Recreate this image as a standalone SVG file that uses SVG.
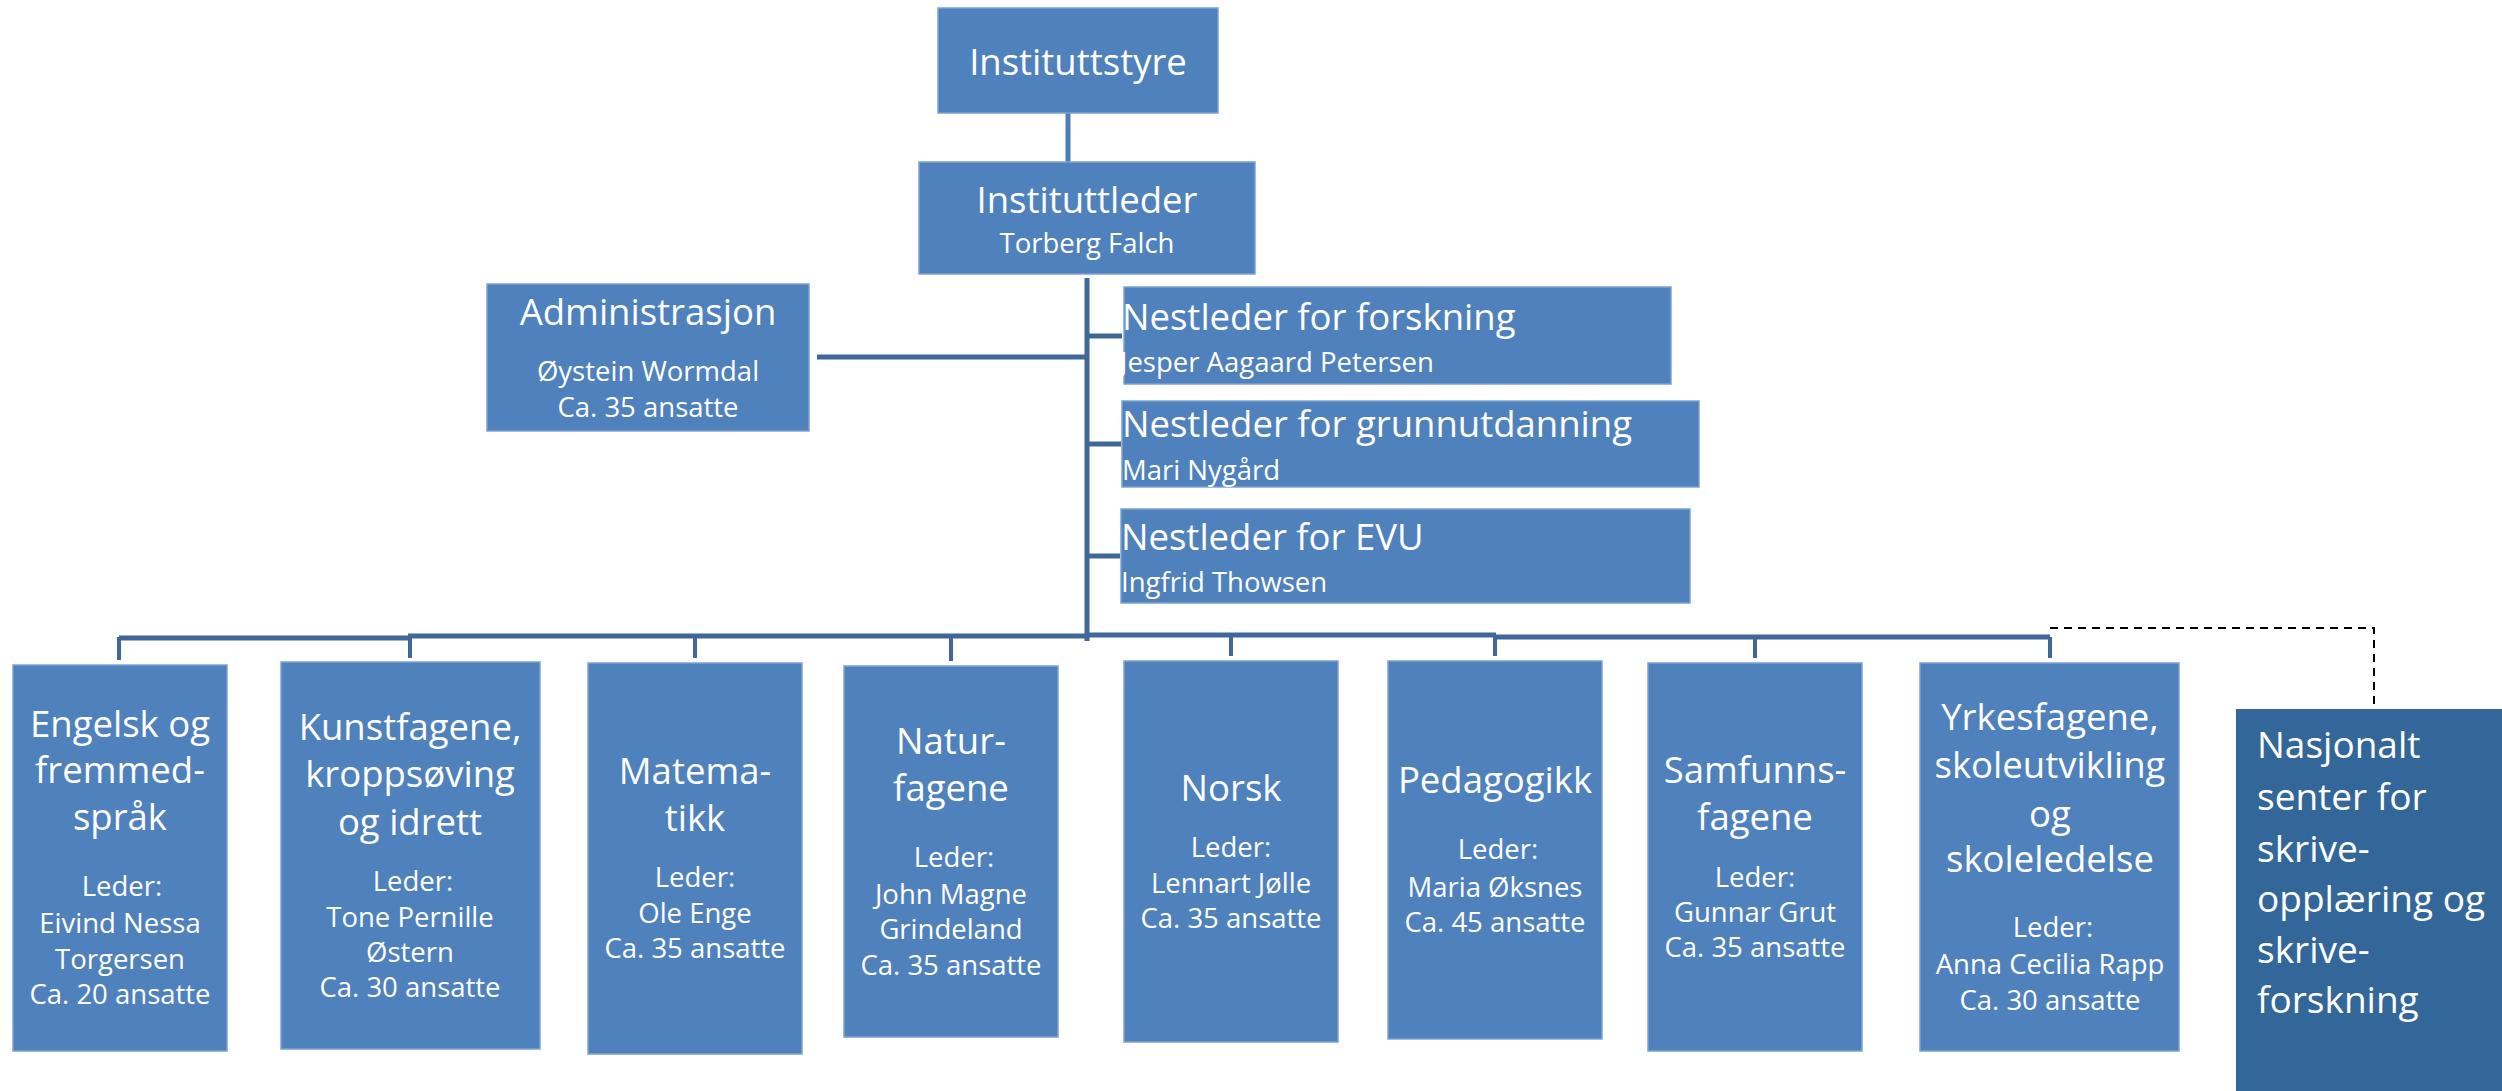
<svg xmlns="http://www.w3.org/2000/svg" width="2502" height="1091" viewBox="0 0 2502 1091">
<style>
.box{fill:#4F81BD;stroke:#7CA2D2;stroke-width:1.5}
.dark{fill:#336699}
text{font-family:"Open Sans","Liberation Sans",sans-serif;fill:#FFFFFF}
.t{font-size:36.5px}
.s{font-size:27.5px}
.n{font-size:37px}
.c{text-anchor:middle}
.con{stroke:#3F6797;stroke-width:5;fill:none}
.drop{stroke:#3F6797;stroke-width:4;fill:none}
</style>
<rect width="2502" height="1091" fill="#FFFFFF"/>
<g id="connectors">
<line x1="1068" y1="113" x2="1068" y2="163" stroke="#4F7CB4" stroke-width="5"/>
<line class="con" x1="1087" y1="278" x2="1087" y2="641"/>
<line class="con" x1="817" y1="357" x2="1087" y2="357"/>
<line class="con" x1="1087" y1="336" x2="1122" y2="336"/>
<line class="con" x1="1087" y1="444" x2="1121" y2="444"/>
<line class="con" x1="1087" y1="556" x2="1120" y2="556"/>
<path class="con" d="M119,638 H408 M408,636 H1087 M1087,635 H1496 M1496,637 H2050"/>
<path class="drop" d="M119,637 V660 M410,636 V658 M695,637 V658 M951,637 V661 M1231,636 V656 M1495,636 V656 M1755,637 V658 M2050,637 V658"/>
<path d="M2050,628 H2374 V709" fill="none" stroke="#000000" stroke-width="2" stroke-dasharray="8,6"/>
</g>
<g id="instituttstyre">
<rect class="box" x="938" y="8" width="280" height="105"/>
<text class="t c" x="1078" y="75">Instituttstyre</text>
</g>
<g id="instituttleder">
<rect class="box" x="919" y="162" width="336" height="112"/>
<text class="t c" x="1087" y="213">Instituttleder</text>
<text class="s c" x="1087" y="253">Torberg Falch</text>
</g>
<g id="administrasjon">
<rect class="box" x="487" y="284" width="322" height="147"/>
<text class="t c" x="648" y="325">Administrasjon</text>
<text class="s c" x="648" y="381">Øystein Wormdal</text>
<text class="s c" x="648" y="417">Ca. 35 ansatte</text>
</g>
<g id="nestleder-forskning">
<rect class="box" x="1124" y="287" width="547" height="97"/>
<text class="t" x="1122" y="330">Nestleder for forskning</text>
<text class="s" x="1120" y="372">Jesper Aagaard Petersen</text>
</g>
<g id="nestleder-grunnutdanning">
<rect class="box" x="1122" y="401" width="577" height="86"/>
<text class="t" x="1122" y="437">Nestleder for grunnutdanning</text>
<text class="s" x="1122" y="480">Mari Nygård</text>
</g>
<g id="nestleder-evu">
<rect class="box" x="1121" y="509" width="569" height="94"/>
<text class="t" x="1121" y="550">Nestleder for EVU</text>
<text class="s" x="1121" y="592">Ingfrid Thowsen</text>
</g>
<g id="engelsk">
<rect class="box" x="13" y="665" width="214" height="386"/>
<text class="t c" x="120" y="737">Engelsk og</text>
<text class="t c" x="120" y="783">fremmed-</text>
<text class="t c" x="120" y="830">språk</text>
<text class="s c" x="122" y="896">Leder:</text>
<text class="s c" x="120" y="933">Eivind Nessa</text>
<text class="s c" x="120" y="969">Torgersen</text>
<text class="s c" x="120" y="1004">Ca. 20 ansatte</text>
</g>
<g id="kunstfagene">
<rect class="box" x="281" y="662" width="259" height="387"/>
<text class="t c" x="410" y="740">Kunstfagene,</text>
<text class="t c" x="410" y="787">kroppsøving</text>
<text class="t c" x="410" y="835">og idrett</text>
<text class="s c" x="413" y="891">Leder:</text>
<text class="s c" x="410" y="927">Tone Pernille</text>
<text class="s c" x="410" y="962">Østern</text>
<text class="s c" x="410" y="997">Ca. 30 ansatte</text>
</g>
<g id="matematikk">
<rect class="box" x="588" y="663" width="214" height="391"/>
<text class="t c" x="695" y="784">Matema-</text>
<text class="t c" x="695" y="831">tikk</text>
<text class="s c" x="695" y="887">Leder:</text>
<text class="s c" x="695" y="923">Ole Enge</text>
<text class="s c" x="695" y="958">Ca. 35 ansatte</text>
</g>
<g id="naturfagene">
<rect class="box" x="844" y="666" width="214" height="371"/>
<text class="t c" x="951" y="754">Natur-</text>
<text class="t c" x="951" y="801">fagene</text>
<text class="s c" x="954" y="867">Leder:</text>
<text class="s c" x="951" y="904">John Magne</text>
<text class="s c" x="951" y="939">Grindeland</text>
<text class="s c" x="951" y="975">Ca. 35 ansatte</text>
</g>
<g id="norsk">
<rect class="box" x="1124" y="661" width="214" height="381"/>
<text class="t c" x="1231" y="801">Norsk</text>
<text class="s c" x="1231" y="857">Leder:</text>
<text class="s c" x="1231" y="893">Lennart Jølle</text>
<text class="s c" x="1231" y="928">Ca. 35 ansatte</text>
</g>
<g id="pedagogikk">
<rect class="box" x="1388" y="661" width="214" height="378"/>
<text class="t c" x="1495" y="793">Pedagogikk</text>
<text class="s c" x="1498" y="859">Leder:</text>
<text class="s c" x="1495" y="897">Maria Øksnes</text>
<text class="s c" x="1495" y="932">Ca. 45 ansatte</text>
</g>
<g id="samfunnsfagene">
<rect class="box" x="1648" y="663" width="214" height="388"/>
<text class="t c" x="1755" y="783">Samfunns-</text>
<text class="t c" x="1755" y="830">fagene</text>
<text class="s c" x="1755" y="887">Leder:</text>
<text class="s c" x="1755" y="922">Gunnar Grut</text>
<text class="s c" x="1755" y="957">Ca. 35 ansatte</text>
</g>
<g id="yrkesfagene">
<rect class="box" x="1920" y="663" width="259" height="388"/>
<text class="t c" x="2050" y="730">Yrkesfagene,</text>
<text class="t c" x="2050" y="778">skoleutvikling</text>
<text class="t c" x="2050" y="827">og</text>
<text class="t c" x="2050" y="872">skoleledelse</text>
<text class="s c" x="2053" y="937">Leder:</text>
<text class="s c" x="2050" y="974">Anna Cecilia Rapp</text>
<text class="s c" x="2050" y="1010">Ca. 30 ansatte</text>
</g>
<g id="nasjonalt-senter">
<rect class="dark" x="2236" y="709" width="266" height="382"/>
<text class="n" x="2257" y="758">Nasjonalt</text>
<text class="n" x="2257" y="810">senter for</text>
<text class="n" x="2257" y="862">skrive-</text>
<text class="n" x="2257" y="912">opplæring og</text>
<text class="n" x="2257" y="963">skrive-</text>
<text class="n" x="2257" y="1013">forskning</text>
</g>
</svg>
